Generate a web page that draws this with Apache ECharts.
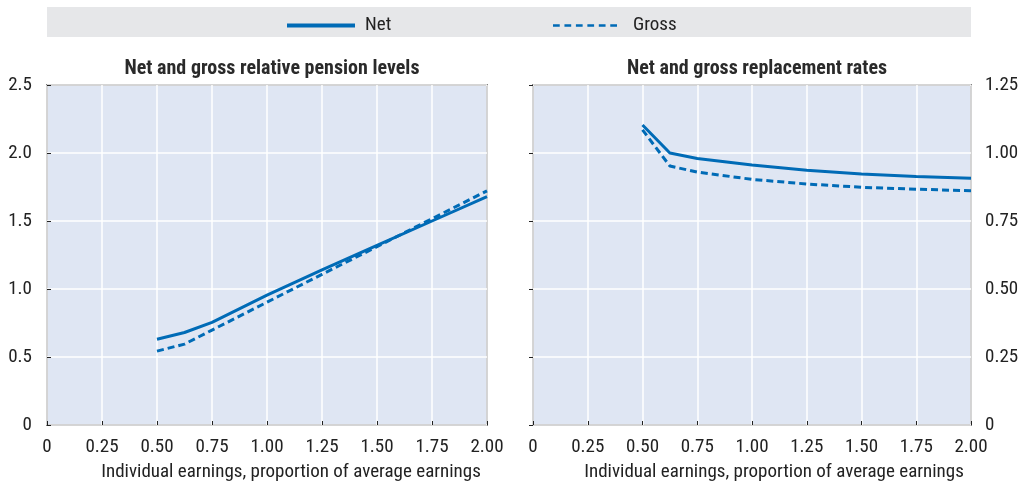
<!DOCTYPE html>
<html>
<head>
<meta charset="utf-8">
<script src="https://cdn.jsdelivr.net/npm/echarts@6/dist/echarts.min.js"></script>
<style>html,body{margin:0;padding:0;background:#fff}#c{width:1024px;height:487px}</style>
</head>
<body>
<div id="c"></div>
<script>
const earnings = [0.5, 0.625, 0.75, 1.0, 1.25, 1.5, 1.75, 2.0];
const netLevel = [0.63, 0.68, 0.755, 0.955, 1.14, 1.32, 1.50, 1.68];
const grossLevel = [0.543, 0.595, 0.698, 0.903, 1.108, 1.311, 1.517, 1.722];
const netRR = [1.103, 1.0, 0.98, 0.956, 0.937, 0.923, 0.914, 0.907];
const grossRR = [1.085, 0.952, 0.930, 0.903, 0.886, 0.874, 0.867, 0.861];
const xTicks = ['0', '0.25', '0.50', '0.75', '1.00', '1.25', '1.50', '1.75', '2.00'];
const titles = ['Net and gross relative pension levels', 'Net and gross replacement rates'];
const xName = 'Individual earnings, proportion of average earnings';

const FONT = '"Liberation Sans Narrow","Roboto Condensed","Arial Narrow",Roboto,sans-serif';
const BLUE = '#006bb6';
const TXT = '#222';
const pair = (xs, ys) => xs.map((x, i) => [x, ys[i]]);
const dashIcon = 'path://M0,0h10v4h-10z M17,0h10v4h-10z M34,0h10v4h-10z M51,0h10v4h-10z M68,0h10v4h-10z M85,0h10v4h-10z';

const chart = echarts.init(document.getElementById('c'), null, {renderer: 'canvas'});
const xAxisBase = (gi, shift) => ({
  type: 'value', gridIndex: gi, min: 0, max: 2, interval: 0.25,
  name: xName, nameLocation: 'middle', nameGap: 38,
  nameTextStyle: {fontFamily: FONT, fontSize: 19, color: TXT, padding: [0, 0, 0, shift]},
  axisLine: {show: false},
  axisTick: {show: true, inside: true, length: 4, lineStyle: {color: TXT, width: 1}},
  axisLabel: {fontFamily: FONT, fontSize: 19, color: TXT, margin: 13,
    formatter: v => xTicks[Math.round(v / 0.25)]},
  splitLine: {show: true, lineStyle: {color: '#fff', width: 1.5}}
});
chart.setOption({
  animation: false,
  textStyle: {fontFamily: FONT},
  graphic: [{type: 'rect', shape: {x: 47, y: 7, width: 924, height: 30}, style: {fill: '#e6e7e9'}, z: -1}],
  legend: [
    {data: [{name: 'Net', icon: 'rect'}], left: 282, top: 11, itemWidth: 68, itemHeight: 4, itemGap: 0,
      itemStyle: {color: BLUE},
      textStyle: {fontFamily: FONT, fontSize: 19, color: TXT, padding: [0, 0, 0, 5]}},
    {data: [{name: 'Gross', icon: dashIcon}], left: 548, top: 11, itemWidth: 64, itemHeight: 4, itemGap: 0,
      itemStyle: {color: BLUE},
      textStyle: {fontFamily: FONT, fontSize: 19, color: TXT, padding: [0, 0, 0, 11]}}
  ],
  title: [
    {text: titles[0], left: 267, top: 54, textAlign: 'center',
      textStyle: {fontFamily: FONT, fontSize: 20, fontWeight: 'bold', color: '#2a2a2a'}},
    {text: titles[1], left: 752, top: 54, textAlign: 'center',
      textStyle: {fontFamily: FONT, fontSize: 20, fontWeight: 'bold', color: '#2a2a2a'}}
  ],
  grid: [
    {left: 47, right: 537, top: 85, bottom: 62, show: true, backgroundColor: '#dfe6f3', borderColor: TXT, borderWidth: 1.5},
    {left: 533, right: 53, top: 85, bottom: 62, show: true, backgroundColor: '#dfe6f3', borderColor: TXT, borderWidth: 1.5}
  ],
  xAxis: [xAxisBase(0, 48), xAxisBase(1, 44)],
  yAxis: [
    {type: 'value', gridIndex: 0, min: 0, max: 2.5, interval: 0.5, position: 'left',
      axisLine: {show: false},
      axisTick: {show: true, inside: true, length: 4, lineStyle: {color: TXT}},
      axisLabel: {fontFamily: FONT, fontSize: 19, color: TXT, margin: 15,
        formatter: v => v === 0 ? '0' : v.toFixed(1)},
      splitLine: {show: true, lineStyle: {color: '#fff', width: 1.5}}},
    {type: 'value', gridIndex: 1, min: 0, max: 1.25, interval: 0.25, position: 'right',
      axisLine: {show: false},
      axisTick: {show: true, inside: true, length: 4, lineStyle: {color: TXT}},
      axisLabel: {fontFamily: FONT, fontSize: 19, color: TXT, margin: 14,
        formatter: v => v === 0 ? '0' : v.toFixed(2)},
      splitLine: {show: true, lineStyle: {color: '#fff', width: 1.5}}}
  ],
  series: [
    {name: 'Net', type: 'line', xAxisIndex: 0, yAxisIndex: 0, data: pair(earnings, netLevel),
      symbol: 'none', lineStyle: {color: BLUE, width: 3}, itemStyle: {color: BLUE}},
    {name: 'Gross', type: 'line', xAxisIndex: 0, yAxisIndex: 0, data: pair(earnings, grossLevel),
      symbol: 'none', lineStyle: {color: BLUE, width: 3, type: [7, 4]}, itemStyle: {color: BLUE}},
    {name: 'Net', type: 'line', xAxisIndex: 1, yAxisIndex: 1, data: pair(earnings, netRR),
      symbol: 'none', lineStyle: {color: BLUE, width: 3}, itemStyle: {color: BLUE}},
    {name: 'Gross', type: 'line', xAxisIndex: 1, yAxisIndex: 1, data: pair(earnings, grossRR),
      symbol: 'none', lineStyle: {color: BLUE, width: 3, type: [7, 4]}, itemStyle: {color: BLUE}}
  ]
});
</script>
</body>
</html>
